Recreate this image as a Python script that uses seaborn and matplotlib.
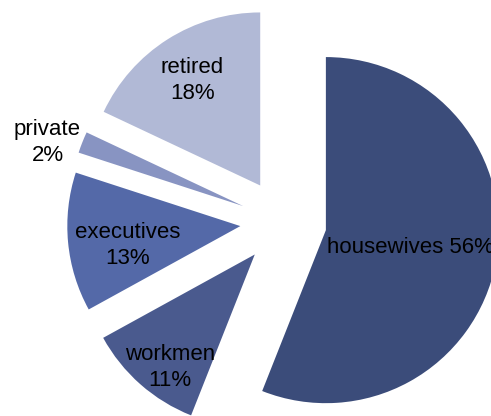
import numpy as np
import seaborn as sns
import matplotlib.pyplot as plt

# data
categories = ["housewives", "workmen", "executives", "private", "retired"]
shares = [56, 11, 13, 2, 18]
colors = ["#3B4C7A", "#4A5A8E", "#5469A8", "#8894C2", "#B1B9D6"]
# label placement relative to each exploded wedge apex (radii, degrees)
label_dist = [0.50, 0.815, 0.66, 1.19, 0.72]
label_turn = [-1.0, 4.4, 4.2, 3.5, 0.5]
one_line = [True, False, False, False, False]

sns.set_theme(style="white")
plt.rcParams['font.family'] = ['Liberation Sans', 'DejaVu Sans']

fig = plt.figure(figsize=(4.91, 4.16), dpi=100)
ax = fig.add_axes([0, 0, 1, 1])

wedges, _ = ax.pie(shares, colors=colors, startangle=90, counterclock=False,
                   explode=[0.25] * len(shares), radius=1.0,
                   wedgeprops=dict(linewidth=0))

for w, name, val, d, turn, single in zip(wedges, categories, shares,
                                         label_dist, label_turn, one_line):
    mid = np.deg2rad((w.theta1 + w.theta2) / 2 + turn)
    cx, cy = w.center
    x = cx + d * w.r * np.cos(mid)
    y = cy + d * w.r * np.sin(mid)
    txt = f"{name} {val}%" if single else f"{name}\n{val}%"
    ax.text(x, y, txt, ha="center", va="center", fontsize=16,
            color="black", linespacing=1.3)

# the reference is cropped around the exploded pie
ax.set_xlim(-1.638, 1.200)
ax.set_ylim(-1.121, 1.283)
ax.set_aspect("auto")
ax.axis("off")

fig.savefig("out.png", dpi=100)
